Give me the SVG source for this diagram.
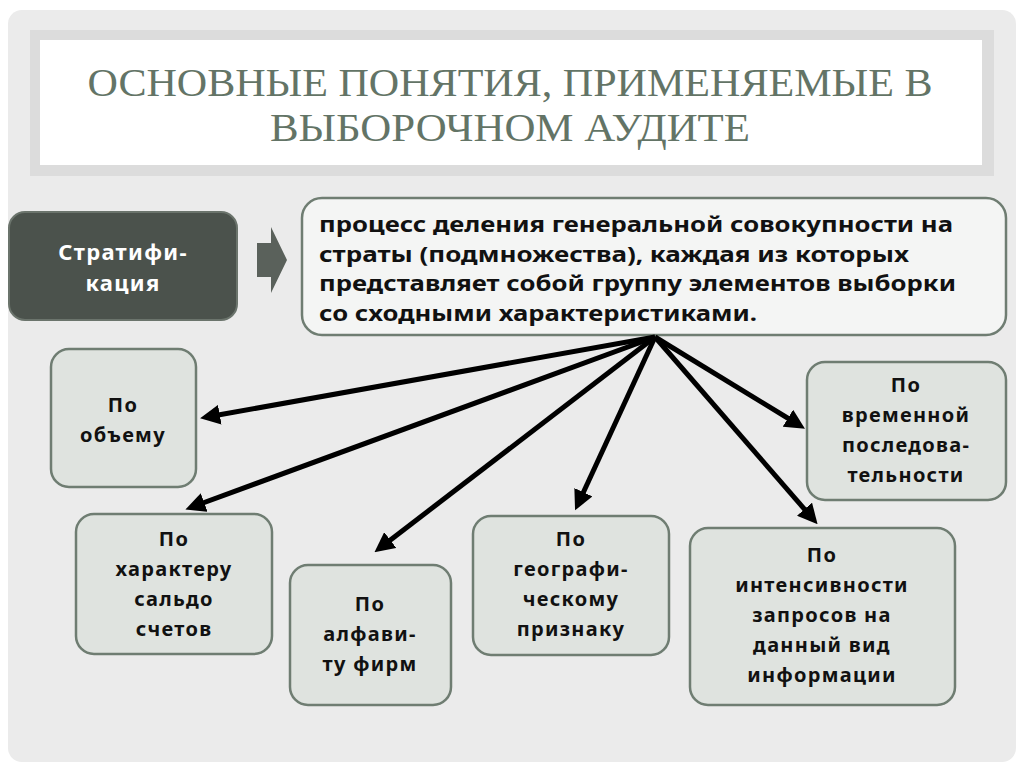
<svg xmlns="http://www.w3.org/2000/svg" width="1024" height="767" viewBox="0 0 1024 767">
<style>
.t{font-family:"Noto Sans","DejaVu Sans",sans-serif;font-weight:bold;font-size:20px;letter-spacing:1.3px;fill:#111;text-anchor:middle}
.d{text-anchor:start;letter-spacing:0;font-size:21px}
.b{fill:#dfe3df;stroke:#6f7d72;stroke-width:2.5}
.c{stroke:#000;stroke-width:5;marker-end:url(#ah)}
</style>
<defs><marker id="ah" markerWidth="4" markerHeight="4" refX="2.6" refY="2" orient="auto"><path d="M0,0 L4,2 L0,4 Z" fill="#000"/></marker></defs>
<rect width="1024" height="767" fill="#fff"/>
<rect x="8" y="10" width="1008" height="752" rx="14" fill="#ebebeb"/>
<rect x="30" y="30" width="964" height="146" fill="#dcdcdc"/>
<rect x="40" y="40" width="942" height="125" fill="#fff"/>
<text x="510" y="96" font-family="Liberation Serif,serif" font-size="40" fill="#637466" text-anchor="middle" textLength="845" lengthAdjust="spacingAndGlyphs">ОСНОВНЫЕ ПОНЯТИЯ, ПРИМЕНЯЕМЫЕ В</text>
<text x="510" y="141" font-family="Liberation Serif,serif" font-size="40" fill="#637466" text-anchor="middle" textLength="480" lengthAdjust="spacingAndGlyphs">ВЫБОРОЧНОМ АУДИТЕ</text>
<g id="strat"><rect x="9" y="212" width="228" height="108" rx="16" fill="#4b524c" stroke="#6b746c" stroke-width="2"/>
<text class="t" x="123" y="260" style="fill:#fff;font-size:22px">Стратифи-</text><text class="t" x="123" y="291" style="fill:#fff;font-size:22px">кация</text></g>
<g id="bigarrow"><path d="M257,243 H271 V227 L287,260 L271,293 V277 H257 Z" fill="#5a615b"/></g>
<g id="def"><rect x="302" y="198" width="704" height="137" rx="20" fill="#f4f5f4" stroke="#6f7d72" stroke-width="2.5"/>
<text class="t d" x="319" y="232" textLength="634" lengthAdjust="spacingAndGlyphs">процесс деления генеральной совокупности на</text>
<text class="t d" x="319" y="262" textLength="590" lengthAdjust="spacingAndGlyphs">страты (подмножества), каждая из которых</text>
<text class="t d" x="319" y="291" textLength="637" lengthAdjust="spacingAndGlyphs">представляет собой группу элементов выборки</text>
<text class="t d" x="319" y="321" textLength="438" lengthAdjust="spacingAndGlyphs">со сходными характеристиками.</text></g>
<g id="n1"><rect class="b" x="51" y="349" width="145" height="138" rx="18"/><text class="t" x="123" y="412">По</text><text class="t" x="123" y="442">объему</text></g>
<g id="n2"><rect class="b" x="76" y="514" width="196" height="140" rx="18"/><text class="t" x="174" y="546">По</text><text class="t" x="174" y="576">характеру</text><text class="t" x="174" y="606">сальдо</text><text class="t" x="174" y="636">счетов</text></g>
<g id="n3"><rect class="b" x="290" y="565" width="161" height="140" rx="18"/><text class="t" x="370" y="611">По</text><text class="t" x="370" y="641">алфави-</text><text class="t" x="370" y="671">ту фирм</text></g>
<g id="n4"><rect class="b" x="473" y="516" width="196" height="139" rx="18"/><text class="t" x="571" y="546">По</text><text class="t" x="571" y="576">географи-</text><text class="t" x="571" y="606">ческому</text><text class="t" x="571" y="636">признаку</text></g>
<g id="n5"><rect class="b" x="690" y="528" width="265" height="177" rx="18"/><text class="t" x="822" y="562">По</text><text class="t" x="822" y="592">интенсивности</text><text class="t" x="822" y="622">запросов на</text><text class="t" x="822" y="652">данный вид</text><text class="t" x="822" y="682">информации</text></g>
<g id="n6"><rect class="b" x="807" y="362" width="199" height="138" rx="18"/><text class="t" x="906" y="392">По</text><text class="t" x="906" y="422">временной</text><text class="t" x="906" y="452">последова-</text><text class="t" x="906" y="482">тельности</text></g>
<g id="connectors">
<line class="c" x1="655" y1="337" x2="207" y2="417"/>
<line class="c" x1="655" y1="337" x2="192" y2="507"/>
<line class="c" x1="655" y1="337" x2="380" y2="548"/>
<line class="c" x1="655" y1="337" x2="578" y2="504"/>
<line class="c" x1="655" y1="337" x2="813" y2="519"/>
<line class="c" x1="655" y1="337" x2="799" y2="425"/>
</g>
</svg>
